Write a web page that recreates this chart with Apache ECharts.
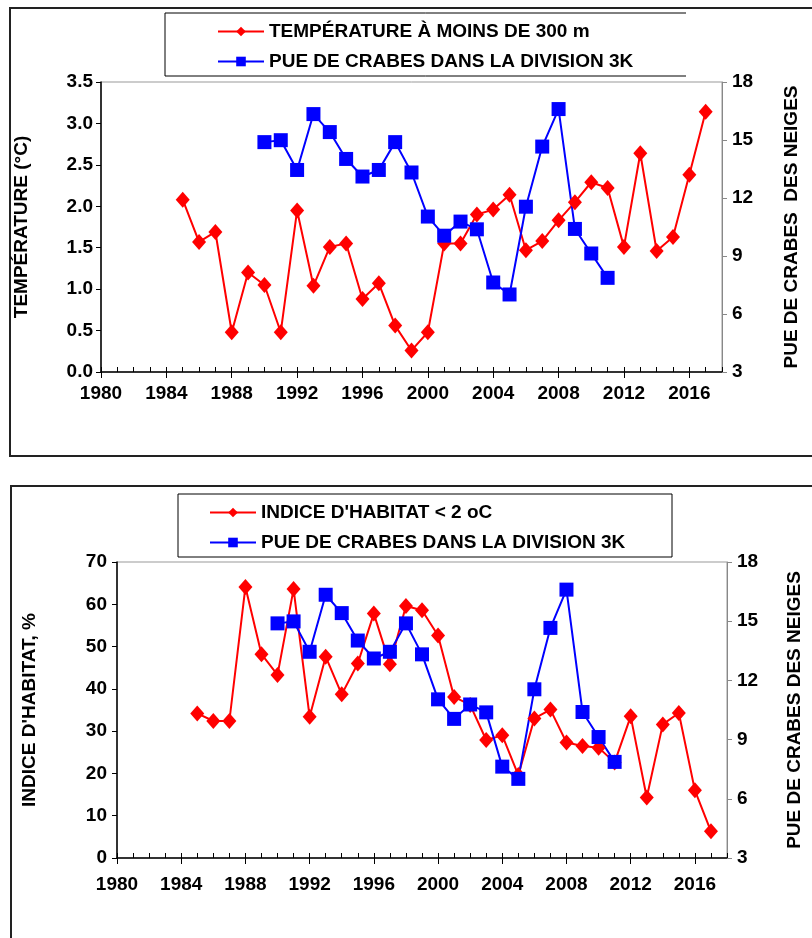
<!DOCTYPE html>
<html>
<head>
<meta charset="utf-8">
<script src="https://cdn.jsdelivr.net/npm/echarts@6/dist/echarts.min.js"></script>
<style>
  html,body{margin:0;padding:0;background:#fff;}
  #main{width:812px;height:938px;}
</style>
</head>
<body>
<div id="main"></div>
<script>
// années de la température et de l'indice d'habitat
var yearsT = [1985,1986,1987,1988,1989,1990,1991,1992,1993,1994,1995,1996,1997,1998,1999,2000,
  2001,2002,2003,2004,2005,2006,2007,2008,2009,2010,2011,2012,2013,2014,2015,2016,2017];
var temperature = [2.08,1.57,1.69,0.48,1.20,1.05,0.48,1.95,1.04,1.51,1.55,0.88,1.07,0.56,0.26,0.48,
  1.55,1.55,1.90,1.96,2.14,1.47,1.58,1.83,2.05,2.29,2.22,1.51,2.64,1.46,1.63,2.38,3.14];
var habitat = [34.2,32.4,32.4,64.1,48.2,43.3,63.6,33.4,47.6,38.7,46.0,57.8,45.8,59.6,58.6,52.6,
  38.1,36.2,27.9,29.0,19.6,33.0,35.1,27.3,26.5,26.1,22.6,33.5,14.3,31.6,34.3,16.0,6.3];
// PUE de crabes (division 3K)
var yearsC = [1990,1991,1992,1993,1994,1995,1996,1997,1998,1999,2000,2001,2002,2003,2004,2005,
  2006,2007,2008,2009,2010,2011];
var cpue = [14.89,14.99,13.45,16.34,15.41,14.02,13.11,13.45,14.89,13.32,11.04,10.05,10.78,10.38,7.63,7.01,
  11.55,14.66,16.6,10.40,9.13,7.87];

var tempTicks = ['0.0','0.5','1.0','1.5','2.0','2.5','3.0','3.5'];

function pairs(xs, ys){
  var res = [];
  for(var i=0;i<xs.length;i++){ res.push([xs[i], ys[i]]); }
  return res;
}

var narrow = '"Liberation Sans Narrow","Liberation Sans",Arial,sans-serif';
var sans = '"Liberation Sans",Arial,sans-serif';
var RED = '#ff0000', BLUE = '#0000ff';

function xMain(gi, margin){
  return {
    type:'value', gridIndex:gi, min:1980, max:2018, interval:4, position:'bottom',
    axisLine:{lineStyle:{color:'#000',width:1.5}},
    axisTick:{show:true, length:6, lineStyle:{color:'#000'}},
    axisLabel:{margin:margin, fontFamily:narrow, fontWeight:'bold', fontSize:19, color:'#000',
      showMaxLabel:false, formatter:function(v){ return String(v); }},
    splitLine:{show:false}
  };
}
function xMinor(gi){
  return {
    type:'value', gridIndex:gi, min:1980, max:2018, interval:1, position:'bottom',
    axisLine:{show:false},
    axisTick:{show:true, inside:true, length:5, lineStyle:{color:'#000'}},
    axisLabel:{show:false}, splitLine:{show:false}
  };
}
function yRight(gi, gap, name){
  return {
    type:'value', gridIndex:gi, position:'right', min:3, max:18, interval:3,
    name:name, nameLocation:'middle', nameGap:gap, nameRotate:90,
    nameTextStyle:{fontFamily:sans, fontWeight:'bold', fontSize:19, color:'#000'},
    axisLine:{show:true, lineStyle:{color:'#888',width:1}},
    axisTick:{show:true, length:5, lineStyle:{color:'#888'}},
    axisLabel:{margin:10, fontFamily:sans, fontWeight:'bold', fontSize:19, color:'#000'},
    splitLine:{show:false}
  };
}

var chart = echarts.init(document.getElementById('main'), null, {renderer:'canvas'});
var option = {
  backgroundColor:'#fff',
  animation:false,
  grid:[
    {left:101, top:82, width:621, height:290, show:true, borderColor:'#999', borderWidth:1},
    {left:117, top:562, width:610, height:296, show:true, borderColor:'#999', borderWidth:1}
  ],
  graphic:[
    // cadres extérieurs
    {type:'polyline', shape:{points:[[830,8],[10,8],[10,456],[830,456]]},
      style:{stroke:'#222', lineWidth:2, fill:null}},
    {type:'polyline', shape:{points:[[830,486],[11,486],[11,950]]},
      style:{stroke:'#222', lineWidth:2, fill:null}},
    // cadres des légendes
    {type:'polyline', shape:{points:[[686,13],[165,13],[165,76],[686,76]]},
      style:{stroke:'#000', lineWidth:1, fill:null}},
    {type:'rect', shape:{x:178, y:494, width:494, height:63},
      style:{stroke:'#000', lineWidth:1, fill:null}}
  ],
  legend:[
    {orient:'vertical', left:212, top:17, itemGap:11, itemWidth:46, itemHeight:12,
      data:['TEMPÉRATURE À MOINS DE 300 m','PUE de crabes 1'],
      formatter:function(n){ return n==='PUE de crabes 1' ? 'PUE DE CRABES DANS LA DIVISION 3K' : n; },
      textStyle:{fontFamily:narrow, fontWeight:'bold', fontSize:19, color:'#000'}},
    {orient:'vertical', left:204, top:498, itemGap:11, itemWidth:46, itemHeight:12,
      data:['INDICE D\'HABITAT < 2 oC','PUE de crabes 2'],
      formatter:function(n){ return n==='PUE de crabes 2' ? 'PUE DE CRABES DANS LA DIVISION 3K' : n; },
      textStyle:{fontFamily:narrow, fontWeight:'bold', fontSize:19, color:'#000'}}
  ],
  xAxis:[xMain(0, 12), xMinor(0), xMain(1, 17), xMinor(1)],
  yAxis:[
    {type:'value', gridIndex:0, position:'left', min:0, max:3.5, interval:0.5,
      name:'TEMPÉRATURE (°C)', nameLocation:'middle', nameGap:70,
      nameTextStyle:{fontFamily:sans, fontWeight:'bold', fontSize:19, color:'#000'},
      axisLine:{show:true, lineStyle:{color:'#000',width:1.5}},
      axisTick:{show:true, length:5, lineStyle:{color:'#000'}},
      axisLabel:{margin:8, fontFamily:sans, fontWeight:'bold', fontSize:19, color:'#000',
        formatter:function(v){ return tempTicks[Math.round(v*2)]; }},
      splitLine:{show:false}},
    yRight(0, 60, 'PUE DE CRABES  DES NEIGES'),
    {type:'value', gridIndex:1, position:'left', min:0, max:70, interval:10,
      name:'INDICE D\'HABITAT, %', nameLocation:'middle', nameGap:78,
      nameTextStyle:{fontFamily:sans, fontWeight:'bold', fontSize:19, color:'#000'},
      axisLine:{show:true, lineStyle:{color:'#000',width:1.5}},
      axisTick:{show:true, length:5, lineStyle:{color:'#000'}},
      axisLabel:{margin:10, fontFamily:sans, fontWeight:'bold', fontSize:19, color:'#000'},
      splitLine:{show:false}},
    yRight(1, 58, 'PUE DE CRABES DES NEIGES')
  ],
  series:[
    {name:'TEMPÉRATURE À MOINS DE 300 m', type:'line', xAxisIndex:0, yAxisIndex:0,
      data:pairs(yearsT, temperature), symbol:'diamond', symbolSize:[14,16],
      lineStyle:{color:RED, width:2}, itemStyle:{color:RED}},
    {name:'PUE de crabes 1', type:'line', xAxisIndex:0, yAxisIndex:1,
      data:pairs(yearsC, cpue), symbol:'rect', symbolSize:14,
      lineStyle:{color:BLUE, width:2}, itemStyle:{color:BLUE}},
    {name:'INDICE D\'HABITAT < 2 oC', type:'line', xAxisIndex:2, yAxisIndex:2,
      data:pairs(yearsT, habitat), symbol:'diamond', symbolSize:[14,16],
      lineStyle:{color:RED, width:2}, itemStyle:{color:RED}},
    {name:'PUE de crabes 2', type:'line', xAxisIndex:2, yAxisIndex:3,
      data:pairs(yearsC, cpue), symbol:'rect', symbolSize:14,
      lineStyle:{color:BLUE, width:2}, itemStyle:{color:BLUE}}
  ]
};
chart.setOption(option);
</script>
</body>
</html>
